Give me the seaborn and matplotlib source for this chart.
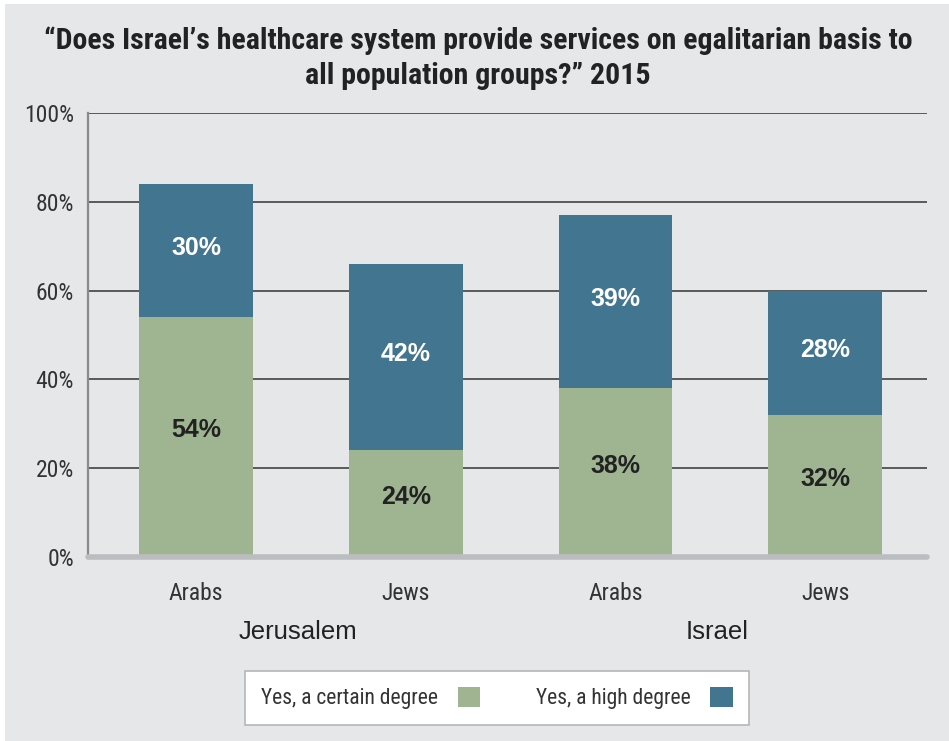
import matplotlib
matplotlib.use("Agg")
import matplotlib.pyplot as plt
from matplotlib.patches import Patch, Rectangle
from matplotlib import font_manager
import seaborn as sns
import pandas as pd

# Datos del gráfico
grupos = ["Jerusalem", "Jerusalem", "Israel", "Israel"]
categorias = ["Arabs", "Jews", "Arabs", "Jews"]
cierto_grado = [54, 24, 38, 32]
alto_grado = [30, 42, 39, 28]
etiquetas_y = ["0%", "20%", "40%", "60%", "80%", "100%"]
titulo = "\u201cDoes Israel\u2019s healthcare system provide services on egalitarian basis to\nall population groups?\u201d 2015"
leyenda = ["Yes, a certain degree", "Yes, a high degree"]

verde = "#9fb592"
azul = "#42758f"
fondo = "#e6e7e9"

# fuente estrecha si existe, si no Liberation Sans
nombres = {f.name for f in font_manager.fontManager.ttflist}
estrecha = "Liberation Sans"
for cand in ["Liberation Sans Narrow", "Roboto Condensed", "DejaVu Sans Condensed", "Open Sans Condensed"]:
    if cand in nombres:
        estrecha = cand
        break

sns.set_style("white")
plt.rcParams["font.family"] = [estrecha, "DejaVu Sans"]

df = pd.DataFrame({
    "x": [0, 1, 2, 3],
    "categoria": categorias,
    "cierto": cierto_grado,
    "alto": alto_grado,
})
df["total"] = df["cierto"] + df["alto"]

fig = plt.figure(figsize=(9.49, 7.41), dpi=100, facecolor="white")
fig.patches.append(Rectangle((5 / 949, 0), 1, 1 - 4 / 741, transform=fig.transFigure,
                             facecolor=fondo, edgecolor="none", zorder=-10))
ax = fig.add_axes([88 / 949, 1 - 557 / 741, (927 - 88) / 949, (557 - 113) / 741])
ax.set_facecolor(fondo)

ancho = 114 / 210
sns.barplot(data=df, x="x", y="total", color=azul, width=ancho, saturation=1,
            ax=ax, zorder=3, order=[0, 1, 2, 3])
sns.barplot(data=df, x="x", y="cierto", color=verde, width=ancho, saturation=1,
            ax=ax, zorder=4, order=[0, 1, 2, 3])
for p in ax.patches:
    p.set_edgecolor("none")

# etiquetas de valores
for i, fila in df.iterrows():
    ax.text(i, fila["cierto"] / 2 + 1.5, f"{fila['cierto']}%", ha="center", va="center",
            fontsize=18, fontweight="bold", color="#222222", zorder=5,
            family=["Liberation Sans", "DejaVu Sans"])
    ax.text(i, fila["cierto"] + fila["alto"] / 2 + 0.7, f"{fila['alto']}%", ha="center", va="center",
            fontsize=18, fontweight="bold", color="white", zorder=5,
            family=["Liberation Sans", "DejaVu Sans"])

ax.set_xlim(-0.515, 3.485)
ax.set_ylim(0, 100)
ax.set_yticks([0, 20, 40, 60, 80, 100])
ax.set_yticklabels(etiquetas_y)
ax.set_xticks([0, 1, 2, 3])
ax.set_xticklabels(categorias)
ax.set_xticks([0.485, 1.485, 2.485], minor=True)
ax.tick_params(axis="x", which="major", length=0, pad=18, labelsize=17, labelcolor="#333333")
ax.tick_params(axis="x", which="minor", direction="in", length=8, width=1.5, color="#bcbdc0")
ax.tick_params(axis="y", length=0, pad=10, labelsize=17, labelcolor="#333333")
ax.set_xlabel("")
ax.set_ylabel("")

for y in [20, 40, 60, 80, 100]:
    ax.axhline(y, color="#333333", lw=1.1, zorder=1)

for lado in ["top", "right"]:
    ax.spines[lado].set_visible(False)
ax.spines["left"].set_color("#8a8a8a")
ax.spines["left"].set_linewidth(1.6)
ax.spines["bottom"].set_color("#bcbdc0")
ax.spines["bottom"].set_linewidth(4)
ax.spines["bottom"].set_capstyle("round")
ax.spines["bottom"].set_zorder(6)

# nombres de grupos
for pos, nombre in [(0.485, "Jerusalem"), (2.485, "Israel")]:
    ax.text(pos, -17, nombre, ha="center", va="center", fontsize=18.5,
            color="#222222", transform=ax.transData, clip_on=False,
            family=["Liberation Sans", "DejaVu Sans"])

fig.suptitle(titulo, x=478 / 949, y=1 - 26 / 741, va="top", fontsize=21.5,
             fontweight="bold", color="#222222", linespacing=1.32)

manejadores = [Patch(facecolor=verde, edgecolor="none"), Patch(facecolor=azul, edgecolor="none")]
leg = fig.legend(manejadores, leyenda, loc="center", bbox_to_anchor=(497 / 949, 1 - 698 / 741),
                 ncol=2, markerfirst=False, frameon=True, fancybox=False, fontsize=15.5,
                 handlelength=1.05, handleheight=1.05, handletextpad=0.9, columnspacing=2.6,
                 borderpad=0.75, borderaxespad=0, framealpha=1)
leg.get_frame().set_facecolor("white")
leg.get_frame().set_edgecolor("#b5b6b8")
leg.get_frame().set_linewidth(1.2)
for t in leg.get_texts():
    t.set_color("#333333")

fig.savefig("out.png", dpi=100, facecolor=fig.get_facecolor())
